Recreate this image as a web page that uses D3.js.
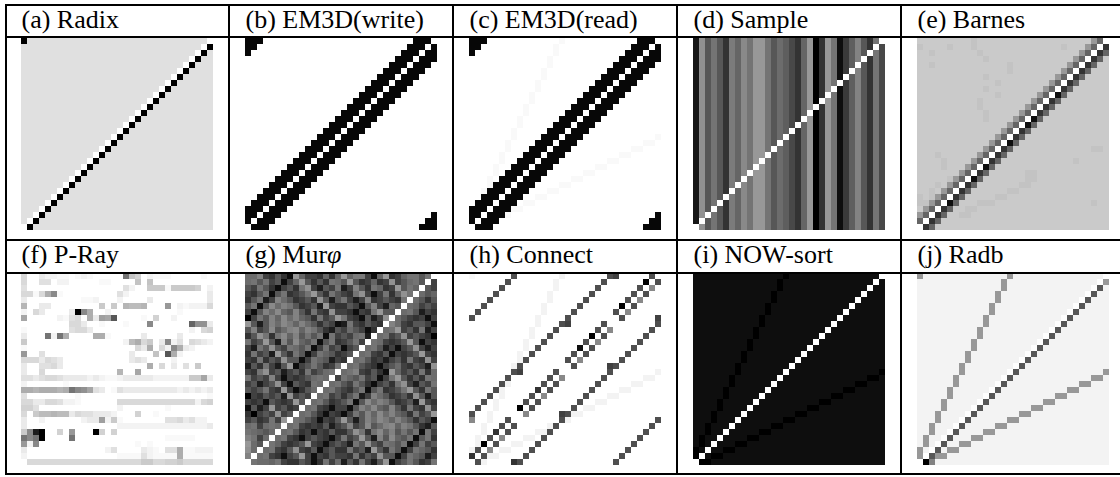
<!DOCTYPE html>
<html>
<head>
<meta charset="utf-8">
<style>
    html, body { margin: 0; padding: 0; background: #fff; }
    text { font-family: "Liberation Serif", serif; fill: #000; }
</style>
<script src="https://cdn.jsdelivr.net/npm/d3@7"></script>
</head>
<body>
<div id="demo"></div>
<script>
// Every row is one line of the matrix, one base-36 digit per cell: 0 = no traffic (white), z = most (black).
// Spaces only split the rows into groups of eight so they can be checked by eye.
const radix = [
"z4444444 44444444 44444444 44444440",
"44444444 44444444 44444444 4444440z",
"44444444 44444444 44444444 444440z4",
"44444444 44444444 44444444 44440z44",
"44444444 44444444 44444444 4440z444",
"44444444 44444444 44444444 440z4444",
"44444444 44444444 44444444 40z44444",
"44444444 44444444 44444444 0z444444",
"44444444 44444444 44444440 z4444444",
"44444444 44444444 4444440z 44444444",
"44444444 44444444 444440z4 44444444",
"44444444 44444444 44440z44 44444444",
"44444444 44444444 4440z444 44444444",
"44444444 44444444 440z4444 44444444",
"44444444 44444444 40z44444 44444444",
"44444444 44444444 0z444444 44444444",
"44444444 44444440 z4444444 44444444",
"44444444 4444440z 44444444 44444444",
"44444444 444440z4 44444444 44444444",
"44444444 44440z44 44444444 44444444",
"44444444 4440z444 44444444 44444444",
"44444444 440z4444 44444444 44444444",
"44444444 40z44444 44444444 44444444",
"44444444 0z444444 44444444 44444444",
"44444440 z4444444 44444444 44444444",
"4444440z 44444444 44444444 44444444",
"444440z4 44444444 44444444 44444444",
"44440z44 44444444 44444444 44444444",
"4440z444 44444444 44444444 44444444",
"440z4444 44444444 44444444 44444444",
"40z44444 44444444 44444444 44444444",
"0z444444 44444444 44444444 44444444"
];

const em3dWrite = [
"yyy00000 00000000 00000000 0000yyy0",
"yy000000 00000000 00000000 000yyy0y",
"y0000000 00000000 00000000 00yyy0yy",
"00000000 00000000 00000000 0yyy0yyy",
"00000000 00000000 00000000 yyy0yyy0",
"00000000 00000000 0000000y yy0yyy00",
"00000000 00000000 000000yy y0yyy000",
"00000000 00000000 00000yyy 0yyy0000",
"00000000 00000000 0000yyy0 yyy00000",
"00000000 00000000 000yyy0y yy000000",
"00000000 00000000 00yyy0yy y0000000",
"00000000 00000000 0yyy0yyy 00000000",
"00000000 00000000 yyy0yyy0 00000000",
"00000000 0000000y yy0yyy00 00000000",
"00000000 000000yy y0yyy000 00000000",
"00000000 00000yyy 0yyy0000 00000000",
"00000000 0000yyy0 yyy00000 00000000",
"00000000 000yyy0y yy000000 00000000",
"00000000 00yyy0yy y0000000 00000000",
"00000000 0yyy0yyy 00000000 00000000",
"00000000 yyy0yyy0 00000000 00000000",
"0000000y yy0yyy00 00000000 00000000",
"000000yy y0yyy000 00000000 00000000",
"00000yyy 0yyy0000 00000000 00000000",
"0000yyy0 yyy00000 00000000 00000000",
"000yyy0y yy000000 00000000 00000000",
"00yyy0yy y0000000 00000000 00000000",
"0yyy0yyy 00000000 00000000 00000000",
"yyy0yyy0 00000000 00000000 00000000",
"yy0yyy00 00000000 00000000 0000000y",
"y0yyy000 00000000 00000000 000000yy",
"0yyy0000 00000000 00000000 00000yyy"
];

const em3dRead = [
"yyy00000 00000001 00000000 0000yyy0",
"yy000000 00000010 00000000 000yyy0y",
"y0000000 00000010 00000000 00yyy0yy",
"00000000 00000100 00000000 0yyy0yyy",
"00000000 00000100 00000000 yyy0yyy0",
"00000000 00001000 0000000y yy0yyy00",
"00000000 00001000 000000yy y0yyy000",
"00000000 00010000 00000yyy 0yyy0000",
"00000000 00010000 0000yyy0 yyy00000",
"00000000 00100000 000yyy0y yy000000",
"00000000 00100000 00yyy0yy y0000000",
"00000000 01000000 0yyy0yyy 00000000",
"00000000 01000000 yyy0yyy0 00000000",
"00000000 1000000y yy0yyy00 00000000",
"00000000 100000yy y0yyy000 00000000",
"00000001 00000yyy 0yyy0000 00000000",
"00000001 0000yyy0 yyy00000 00000001",
"00000010 000yyy0y yy000000 00000110",
"00000010 00yyy0yy y0000000 00011000",
"00000100 0yyy0yyy 00000000 01100000",
"00000100 yyy0yyy0 00000001 10000000",
"0000100y yy0yyy00 00000110 00000000",
"000010yy y0yyy000 00011000 00000000",
"00010yyy 0yyy0000 01100000 00000000",
"0001yyy0 yyy00001 10000000 00000000",
"001yyy0y yy000110 00000000 00000000",
"00yyy0yy y0011000 00000000 00000000",
"0yyy0yyy 01100000 00000000 00000000",
"yyy0yyy1 10000000 00000000 00000000",
"yy0yyy10 00000000 00000000 0000000y",
"y0yyy000 00000000 00000000 000000yy",
"0yyy0000 00000000 00000000 00000yyy"
];

const sample = [
"wfnjnsil gjeejnkm pslezsej xrmhnsj0",
"wfnjnsil gjeejnkm pslezsej xrmhns0p",
"wfnjnsil gjeejnkm pslezsej xrmhn0jp",
"wfnjnsil gjeejnkm pslezsej xrmh0sjp",
"wfnjnsil gjeejnkm pslezsej xrm0nsjp",
"wfnjnsil gjeejnkm pslezsej xr0hnsjp",
"wfnjnsil gjeejnkm pslezsej x0mhnsjp",
"wfnjnsil gjeejnkm pslezsej 0rmhnsjp",
"wfnjnsil gjeejnkm pslezse0 xrmhnsjp",
"wfnjnsil gjeejnkm pslezs0j xrmhnsjp",
"wfnjnsil gjeejnkm pslez0ej xrmhnsjp",
"wfnjnsil gjeejnkm psle0sej xrmhnsjp",
"wfnjnsil gjeejnkm psl0zsej xrmhnsjp",
"wfnjnsil gjeejnkm ps0ezsej xrmhnsjp",
"wfnjnsil gjeejnkm p0lezsej xrmhnsjp",
"wfnjnsil gjeejnkm 0slezsej xrmhnsjp",
"wfnjnsil gjeejnk0 pslezsej xrmhnsjp",
"wfnjnsil gjeejn0m pslezsej xrmhnsjp",
"wfnjnsil gjeej0km pslezsej xrmhnsjp",
"wfnjnsil gjee0nkm pslezsej xrmhnsjp",
"wfnjnsil gje0jnkm pslezsej xrmhnsjp",
"wfnjnsil gj0ejnkm pslezsej xrmhnsjp",
"wfnjnsil g0eejnkm pslezsej xrmhnsjp",
"wfnjnsil 0jeejnkm pslezsej xrmhnsjp",
"wfnjnsi0 gjeejnkm pslezsej xrmhnsjp",
"wfnjns0l gjeejnkm pslezsej xrmhnsjp",
"wfnjn0il gjeejnkm pslezsej xrmhnsjp",
"wfnj0sil gjeejnkm pslezsej xrmhnsjp",
"wfn0nsil gjeejnkm pslezsej xrmhnsjp",
"wf0jnsil gjeejnkm pslezsej xrmhnsjp",
"w0njnsil gjeejnkm pslezsej xrmhnsjp",
"0fnjnsil gjeejnkm pslezsej xrmhnsjp"
];

const barnes = [
"77777777 78777777 77777777 77777el0",
"87777877 78777777 77777777 8777el0s",
"77877777 77877777 77777777 777el0sl",
"77777777 77787777 77777777 77el0sl7",
"77877777 77777778 77777777 7el0sl77",
"77777777 77777778 77777777 el0sl777",
"77777777 77787777 7777777e l0sl7777",
"77777777 77777877 777777el 0sl77777",
"77777777 77787777 77777el0 sl777777",
"77777777 77777877 7777el0x l7777777",
"77777777 77877777 777el0sl 77777777",
"77777777 77877777 77el0sl7 77777777",
"77777777 77787777 7el0sl77 77777777",
"77777777 77787777 el0xl777 77777777",
"77777777 7777777e l0xl7777 77777777",
"77777777 777777el 0sl77777 77777777",
"77777777 77777el0 sl777777 77777777",
"77777777 7777el0x l7777777 77777777",
"77777777 777el0sl 77777777 77777887",
"77787777 77el0sl7 77777777 77777777",
"77778777 7el0sl77 77777777 77877777",
"77778777 el0xl777 77777777 77777777",
"7777777e l0sl7777 77887777 77777777",
"777778el 0xl77777 77887777 77777777",
"77787el0 sl777777 78877777 77777777",
"7787el0s l7777778 87777777 77777777",
"878el0sl 77777887 77777777 77777777",
"88el0xl7 77888777 77777777 77777877",
"7el0sl77 88777777 77777777 77777777",
"el0sl778 87777777 77777777 77777777",
"l0sl7777 77777777 77777777 77777777",
"0sl77777 77777777 77777777 77777777"
];

const pRay = [
"50032211 01210000 0j860211 10000010",
"50044022 00000110 00080800 00000000",
"40000000 00000000 04200777 17777602",
"5515bg10 00000000 42000000 00000003",
"30000000 00112000 20000300 00000003",
"a0033000 00000707 0a99a000 e0212225",
"20530000 3zgb0020 00000000 00100000",
"c0000021 450b3dcn 00001060 02000000",
"00000000 55300100 01000g00 0000lff3",
"10000000 45530000 00000000 00002056",
"3000j2jb 0000bb10 00003000 00300000",
"70000000 00000000 029b5703 g2405432",
"10000000 00000000 00053b05 2gb32000",
"e0040000 00000000 00300080 nb200000",
"55535430 00000000 00343000 02000000",
"30044530 00000000 00000b05 03040700",
"30050000 00000000 a00c0000 00000000",
"44345543 33323211 23333322 222277c3",
"20000001 00000000 00000000 00000000",
"bbabbbab jgfc4301 43333333 33232323",
"40000000 01000000 00000000 00000001",
"55335542 21000000 55555555 55555256",
"66400000 00000000 20000000 10000000",
"50799a99 35443332 00060010 00000000",
"30020000 00233d27 10000000 44534220",
"30000000 00000000 22222222 22222223",
"7gvz0060 e000z606 00000000 00000000",
"jgjz0000 j0000000 00000000 11111000",
"e2g00000 00000000 00010100 00000000",
"30000000 00000024 00003210 44b11222",
"20000000 00000000 11114211 11b11111",
"05555555 55555555 55557755 66755555"
];

const murphi = [
"kkhqsnsx elqqslsl eliiqxle sqljjnj0",
"kjnjqnxq lensnsjk nensqlsq fqnkjn0q",
"nqjnsxqn sjfqvnqj vqhnsjls qenjl0nq",
"qsnjxnjs qnjensjn qsjfqxqj slfj0knl",
"snjvqhkn sqnsfnvn jqvqhsqn qsj0knsn",
"njxngkhj nsqnveqs snqxnhqv ln0klqnq",
"qxnhkgln hnsjqsfq qsxqsjen n0kjnvqs",
"zqjnhlgk hlnsjqne jqsxnvqf 0knqsqxq",
"envnhkgi lhknsnqx vjqsnqs0 hkqsnnqx",
"nhqngnkh glhjnsvn qknqxs0k jeqnsjvq",
"snfjsjgl hnjnjxjq nqkjv0kj qnfqnqsz",
"jqnenvhn glnjxnjs qnjq0jkq sqnenxqs",
"qvjnfnqj knjxqjqn xqn0kjnv qxqnfqvq",
"sjqnvens jnxqjlns qn0kjqsn xqsqneqs",
"qsjsnqfn nxqjlnvq s0kjnsqv qnsjqsfq",
"vnsjqvne xqnjnsqj 0kjnqsxq nkqsnqvf",
"qsjfqnvq nsjqnkj0 kjhqsnsx elqnsjsk",
"jqnqhqxq sqnkjk0q jlnjqnxq jensnsjk",
"qnvqnfqx nqsjk0kj nqjnsxqn sjfqvnqj",
"nqnjqseq xsnk0kjn qsnjxnjs qnjensjn",
"zqsnqnvf qnq0kjqn snjvqhkn sqnsfnvn",
"qsqxnqsq en0kjnsq njxngkhj nsqnveqs",
"xnvqeqns q0kjqsxq qxnhkgln hnsjqsfq",
"szqnqfqn 0kjnsxqs xqjnhlgk hlnsjqne",
"qnsqjqe0 jknqxqsn envnhkgi lhknsnqx",
"kjqkjk0k jqsqsnvq nhqngnkh glhjnsvn",
"jklnk0kj nsqxqsns snfjsjgl hnjnjxjq",
"hjqk0kjq sxqnqsxq jqnenvhn glnjxnjs",
"ekn0jlqs qneqsxqn qvjnfnqj knjxqjqn",
"fk0kjqsn fqsnxqns sjqnvens jnxqjlns",
"h0kjqsxq neqxqsnq qsjsnqfn nxqjlnvq",
"0jkkljqs snqxsjqk vnsjqvne xqnjnsqj"
];

const connect = [
"1000000o 00000002 0000000o q00000o0",
"000000o0 00000020 000000o0 00000z0o",
"00000o00 00000020 00000o00 0000o0g0",
"0000o000 00000200 0000o000 000o0o00",
"000o0000 00000200 000o0000 00o0g000",
"00o00000 00002000 00o00000 0z0o0000",
"0o000000 00002000 0o000000 o0g00000",
"o0000000 00020000 o0000000 0o00000q",
"00000000 0002000o q00000o0 0000000o",
"00000000 002000o0 00000o0g 000000o0",
"00000000 00200o00 0000z0o0 00000o00",
"00000000 0200o000 000o0g00 0000o000",
"00000000 020o0000 00x0o000 000o0000",
"00000000 20o00000 0o0o0000 00o00000",
"00000000 2o000000 o0g00000 0o000000",
"00000002 o0000000 0o00000q o0000000",
"0000000o q00000o0 0000000o 00000002",
"000000o0 00000o0g 000000o0 00000220",
"00000o20 0000o0o0 00000o00 00022000",
"0000o200 000s0o00 0000o000 02200000",
"000o0200 00o0g000 000o0002 20000000",
"00o02000 0o0o0000 00o00220 00000000",
"0o002000 z0o00000 0o022000 00000000",
"o0020000 0g00000q o2200000 00000000",
"g00200o0 0000000o 20000000 0000000o",
"00200o0o 000002o0 00000000 000000o0",
"0020s0o0 00022o00 00000000 00000o00",
"020o0g00 0220o000 00000000 0000o000",
"02z0o002 200o0000 00000000 000o0000",
"2o0g0220 00o00000 00000000 00o00000",
"s0o22000 0o000000 00000000 0o000000",
"0o20000s o0000000 00000000 o0000000"
];

const nowSort = [
"xxxxxxxx xxxxxxxz xxxxxxxx xxxxxxx0",
"xxxxxxxx xxxxxxzx xxxxxxxx xxxxxx0x",
"xxxxxxxx xxxxxxzx xxxxxxxx xxxxx0xx",
"xxxxxxxx xxxxxzxx xxxxxxxx xxxx0xxx",
"xxxxxxxx xxxxxzxx xxxxxxxx xxx0xxxx",
"xxxxxxxx xxxxzxxx xxxxxxxx xx0xxxxx",
"xxxxxxxx xxxxzxxx xxxxxxxx x0xxxxxx",
"xxxxxxxx xxxzxxxx xxxxxxxx 0xxxxxxx",
"xxxxxxxx xxxzxxxx xxxxxxx0 xxxxxxxx",
"xxxxxxxx xxzxxxxx xxxxxx0x xxxxxxxx",
"xxxxxxxx xxzxxxxx xxxxx0xx xxxxxxxx",
"xxxxxxxx xzxxxxxx xxxx0xxx xxxxxxxx",
"xxxxxxxx xzxxxxxx xxx0xxxx xxxxxxxx",
"xxxxxxxx zxxxxxxx xx0xxxxx xxxxxxxx",
"xxxxxxxx zxxxxxxx x0xxxxxx xxxxxxxx",
"xxxxxxxz xxxxxxxx 0xxxxxxx xxxxxxxx",
"xxxxxxxz xxxxxxx0 xxxxxxxx xxxxxxxz",
"xxxxxxzx xxxxxx0x xxxxxxxx xxxxxzzx",
"xxxxxxzx xxxxx0xx xxxxxxxx xxxzzxxx",
"xxxxxzxx xxxx0xxx xxxxxxxx xzzxxxxx",
"xxxxxzxx xxx0xxxx xxxxxxxz zxxxxxxx",
"xxxxzxxx xx0xxxxx xxxxxzzx xxxxxxxx",
"xxxxzxxx x0xxxxxx xxxzzxxx xxxxxxxx",
"xxxzxxxx 0xxxxxxx xzzxxxxx xxxxxxxx",
"xxxzxxx0 xxxxxxxz zxxxxxxx xxxxxxxx",
"xxzxxx0x xxxxxzzx xxxxxxxx xxxxxxxx",
"xxzxx0xx xxxzzxxx xxxxxxxx xxxxxxxx",
"xzxx0xxx xzzxxxxx xxxxxxxx xxxxxxxx",
"xzx0xxxz zxxxxxxx xxxxxxxx xxxxxxxx",
"zx0xxzzx xxxxxxxx xxxxxxxx xxxxxxxx",
"z0xzzxxx xxxxxxxx xxxxxxxx xxxxxxxx",
"0zzxxxxx xxxxxxxx xxxxxxxx xxxxxxxx"
];

const radb = [
"e2222222 2222222e 22222222 22222220",
"22222222 222222e2 22222222 2222220e",
"22222222 222222e2 22222222 222220n2",
"22222222 22222e22 22222222 22220n22",
"22222222 22222e22 22222222 2220n222",
"22222222 2222e222 22222222 220n2222",
"22222222 2222e222 22222222 20n22222",
"22222222 222e2222 22222222 0n222222",
"22222222 222e2222 22222220 n2222222",
"22222222 22e22222 2222220n 22222222",
"22222222 22e22222 222220n2 22222222",
"22222222 2e222222 22220n22 22222222",
"22222222 2e222222 2220n222 22222222",
"22222222 e2222222 220n2222 22222222",
"22222222 e2222222 20n22222 22222222",
"2222222e 22222222 0n222222 22222222",
"2222222e 22222220 n2222222 2222222e",
"222222e2 2222220n 22222222 22222ee2",
"222222e2 222220n2 22222222 222ee222",
"22222e22 22220n22 22222222 2ee22222",
"22222e22 2220n222 2222222e e2222222",
"2222e222 220n2222 22222ee2 22222222",
"2222e222 20n22222 222ee222 22222222",
"222e2222 0n222222 2ee22222 22222222",
"222e2220 n222222e e2222222 22222222",
"22e2220n 22222ee2 22222222 22222222",
"22e220n2 222ee222 22222222 22222222",
"2e220n22 2ee22222 22222222 22222222",
"2e20n22e e2222222 22222222 22222222",
"e20n2ee2 22222222 22222222 22222222",
"e0nee222 22222222 22222222 22222222",
"0zh22222 22222222 22222222 22222222"
];

const matrices = [radix, em3dWrite, em3dRead, sample, barnes, pRay, murphi, connect, nowSort, radb];
const titles = ["(a) Radix", "(b) EM3D(write)", "(c) EM3D(read)", "(d) Sample", "(e) Barnes",
    "(f) P-Ray", "(g) Mur", "(h) Connect", "(i) NOW-sort", "(j) Radb"];

// table rules of the figure
const ruleRows = [5, 37, 240, 273, 474];
const ruleCols = [6, 229, 453, 677, 901];

let w = 1120;
let h = 477;
let cell = 6;
let n = 32;

let svg = d3.select("#demo")
    .append("svg")
    .attr("width", w)
    .attr("height", h)
    .style("display", "block");

let panelX = d3.scalePoint().domain(d3.range(5)).range([21, 917]);
let panelY = d3.scaleOrdinal().domain([0, 1]).range([38, 273]);
let titleY = d3.scaleOrdinal().domain([0, 1]).range([28, 263]);
let titleX = d3.scalePoint().domain(d3.range(5)).range([21.5, 917.5]);
let band = d3.scaleBand().domain(d3.range(n)).range([0, n * cell]);
// the light end is stretched a bit so the pale backgrounds land on f3 and e0
let grey = d3.scaleLinear().domain([0, 2, 4, 35]).range(["#ffffff", "#f3f3f3", "#e0e0e0", "#000000"]);

matrices.forEach((rows, p) => {
    let col = p % 5;
    let row = Math.floor(p / 5);

    let cells = [];
    rows.forEach((line, r) => {
        line.replace(/ /g, "").split("").forEach((ch, c) => {
            cells.push({r: r, c: c, v: parseInt(ch, 36)});
        });
    });

    let g = svg.append("g")
        .attr("transform", "translate(" + panelX(col) + "," + panelY(row) + ")");

    g.selectAll("rect")
        .data(cells)
        .enter()
        .append("rect")
        .attr("x", (d) => band(d.c))
        .attr("y", (d) => band(d.r))
        .attr("width", band.bandwidth())
        .attr("height", band.bandwidth())
        .attr("shape-rendering", "crispEdges")
        .style("fill", (d) => grey(d.v));

    let label = svg.append("text")
        .attr("x", titleX(col))
        .attr("y", titleY(row))
        .attr("font-size", 26)
        .text(titles[p]);

    if (p === 6) {
        label.append("tspan")
            .attr("font-style", "italic")
            .text("\u03c6");
    }
});

svg.selectAll(".rule-h")
    .data(ruleRows)
    .enter()
    .append("line")
    .attr("class", "rule-h")
    .attr("x1", ruleCols[0] - 1)
    .attr("x2", w)
    .attr("y1", (d) => d)
    .attr("y2", (d) => d)
    .attr("stroke", "#000")
    .attr("stroke-width", 2)
    .attr("shape-rendering", "crispEdges");

svg.selectAll(".rule-v")
    .data(ruleCols)
    .enter()
    .append("line")
    .attr("class", "rule-v")
    .attr("x1", (d) => d)
    .attr("x2", (d) => d)
    .attr("y1", ruleRows[0] - 1)
    .attr("y2", ruleRows[4] + 1)
    .attr("stroke", "#000")
    .attr("stroke-width", 2)
    .attr("shape-rendering", "crispEdges");
</script>
</body>
</html>
